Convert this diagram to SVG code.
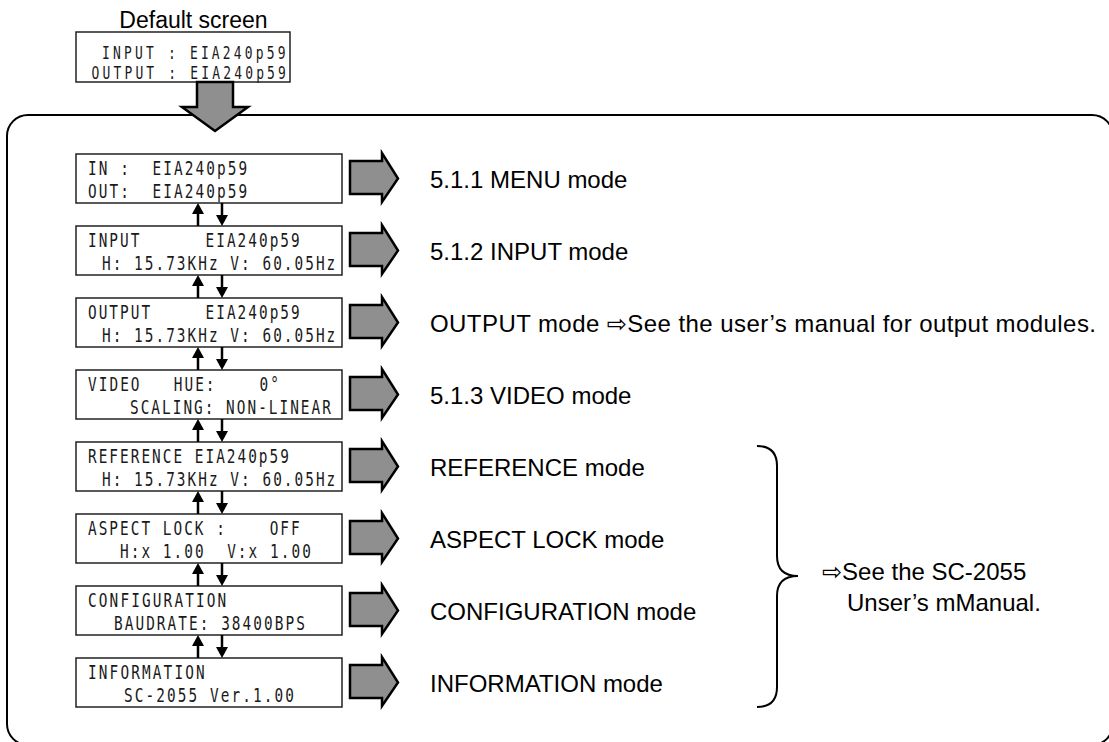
<svg xmlns="http://www.w3.org/2000/svg" width="1109" height="742" viewBox="0 0 1109 742">
<style>
.lcdbox{fill:#fff;stroke:#222;stroke-width:1.5}
.lcd{font-family:"DejaVu Sans Mono",monospace;font-size:20px;fill:#1a1a1a;white-space:pre}
.lbl{font-family:"Liberation Sans","DejaVu Sans",sans-serif;font-size:24px;fill:#000}
.garrow{fill:#8f8f8f;stroke:#000;stroke-width:2.5;stroke-linejoin:miter}
.conn line{stroke:#000;stroke-width:2.5}
.conn polygon{fill:#000}
</style>
<rect x="7" y="115" width="1106" height="630" rx="21" ry="21" fill="none" stroke="#000" stroke-width="2"/>
<g id="default">
<text class="lbl" x="193.5" y="28" text-anchor="middle" style="font-size:23px">Default screen</text>
<rect class="lcdbox" x="76" y="32" width="214" height="50"/>
<text class="lcd" transform="translate(102,59) scale(0.72,1)" style="font-size:18px" textLength="255" lengthAdjust="spacing">INPUT : EIA240p59</text>
<text class="lcd" transform="translate(91.5,79) scale(0.72,1)" style="font-size:18px" textLength="270" lengthAdjust="spacing">OUTPUT : EIA240p59</text>
</g>
<polygon class="garrow" points="197,82 233,82 233,107 248,107 215,131 182,107 197,107"/>
<g id="n1">
<rect class="lcdbox" x="76" y="154" width="266" height="49"/>
<text class="lcd" transform="translate(88,175) scale(0.72,1)" textLength="221" lengthAdjust="spacing">IN :  EIA240p59</text>
<text class="lcd" transform="translate(88,198) scale(0.72,1)" textLength="221" lengthAdjust="spacing">OUT:  EIA240p59</text>
<polygon class="garrow" points="350,161 382,161 382,153 398,178.5 382,202 382,194 350,194"/>
<text class="lbl" x="430" y="188">5.1.1 MENU mode</text>
</g>
<g id="n2">
<rect class="lcdbox" x="76" y="226" width="266" height="49"/>
<text class="lcd" transform="translate(88,247) scale(0.72,1)" textLength="294" lengthAdjust="spacing">INPUT      EIA240p59</text>
<text class="lcd" transform="translate(102,270) scale(0.72,1)" textLength="324" lengthAdjust="spacing">H: 15.73KHz V: 60.05Hz</text>
<polygon class="garrow" points="350,233 382,233 382,225 398,250.5 382,274 382,266 350,266"/>
<text class="lbl" x="430" y="260">5.1.2 INPUT mode</text>
</g>
<g id="n3">
<rect class="lcdbox" x="76" y="298" width="266" height="49"/>
<text class="lcd" transform="translate(88,319) scale(0.72,1)" textLength="294" lengthAdjust="spacing">OUTPUT     EIA240p59</text>
<text class="lcd" transform="translate(102,342) scale(0.72,1)" textLength="324" lengthAdjust="spacing">H: 15.73KHz V: 60.05Hz</text>
<polygon class="garrow" points="350,305 382,305 382,297 398,322.5 382,346 382,338 350,338"/>
<text class="lbl" x="430" y="332" textLength="666" lengthAdjust="spacing">OUTPUT mode ⇨See the user’s manual for output modules.</text>
</g>
<g id="n4">
<rect class="lcdbox" x="76" y="370" width="266" height="49"/>
<text class="lcd" transform="translate(88,391) scale(0.72,1)" textLength="265" lengthAdjust="spacing">VIDEO   HUE:    0°</text>
<text class="lcd" transform="translate(130,414) scale(0.72,1)" textLength="279" lengthAdjust="spacing">SCALING: NON-LINEAR</text>
<polygon class="garrow" points="350,377 382,377 382,369 398,394.5 382,418 382,410 350,410"/>
<text class="lbl" x="430" y="404">5.1.3 VIDEO mode</text>
</g>
<g id="n5">
<rect class="lcdbox" x="76" y="442" width="266" height="49"/>
<text class="lcd" transform="translate(88,463) scale(0.72,1)" textLength="279" lengthAdjust="spacing">REFERENCE EIA240p59</text>
<text class="lcd" transform="translate(102,486) scale(0.72,1)" textLength="324" lengthAdjust="spacing">H: 15.73KHz V: 60.05Hz</text>
<polygon class="garrow" points="350,449 382,449 382,441 398,466.5 382,490 382,482 350,482"/>
<text class="lbl" x="430" y="476">REFERENCE mode</text>
</g>
<g id="n6">
<rect class="lcdbox" x="76" y="514" width="266" height="49"/>
<text class="lcd" transform="translate(88,535) scale(0.72,1)" textLength="294" lengthAdjust="spacing">ASPECT LOCK :    OFF</text>
<text class="lcd" transform="translate(120,558) scale(0.72,1)" textLength="265" lengthAdjust="spacing">H:x 1.00  V:x 1.00</text>
<polygon class="garrow" points="350,521 382,521 382,513 398,538.5 382,562 382,554 350,554"/>
<text class="lbl" x="430" y="548">ASPECT LOCK mode</text>
</g>
<g id="n7">
<rect class="lcdbox" x="76" y="586" width="266" height="49"/>
<text class="lcd" transform="translate(88,607) scale(0.72,1)" textLength="192" lengthAdjust="spacing">CONFIGURATION</text>
<text class="lcd" transform="translate(114,630) scale(0.72,1)" textLength="265" lengthAdjust="spacing">BAUDRATE: 38400BPS</text>
<polygon class="garrow" points="350,593 382,593 382,585 398,610.5 382,634 382,626 350,626"/>
<text class="lbl" x="430" y="620">CONFIGURATION mode</text>
</g>
<g id="n8">
<rect class="lcdbox" x="76" y="658" width="266" height="49"/>
<text class="lcd" transform="translate(88,679) scale(0.72,1)" textLength="162" lengthAdjust="spacing">INFORMATION</text>
<text class="lcd" transform="translate(124,702) scale(0.72,1)" textLength="236" lengthAdjust="spacing">SC-2055 Ver.1.00</text>
<polygon class="garrow" points="350,665 382,665 382,657 398,682.5 382,706 382,698 350,698"/>
<text class="lbl" x="430" y="692">INFORMATION mode</text>
</g>
<g id="brace">
<path d="M757,446 Q777,446 777,466 L777,556 Q777,576 798,576 Q777,576 777,596 L777,687 Q777,707 757,707" fill="none" stroke="#000" stroke-width="2"/>
<text class="lbl" x="822" y="580">⇨See the SC-2055</text>
<text class="lbl" x="847" y="611">Unser’s mManual.</text>
</g>
<g class="conn" id="connectors">
<line x1="198" y1="226" x2="198" y2="212"/><polygon points="198,203 192,214 204,214"/>
<line x1="222" y1="203" x2="222" y2="217"/><polygon points="222,226 216,215 228,215"/>
<line x1="198" y1="298" x2="198" y2="284"/><polygon points="198,275 192,286 204,286"/>
<line x1="222" y1="275" x2="222" y2="289"/><polygon points="222,298 216,287 228,287"/>
<line x1="198" y1="370" x2="198" y2="356"/><polygon points="198,347 192,358 204,358"/>
<line x1="222" y1="347" x2="222" y2="361"/><polygon points="222,370 216,359 228,359"/>
<line x1="198" y1="442" x2="198" y2="428"/><polygon points="198,419 192,430 204,430"/>
<line x1="222" y1="419" x2="222" y2="433"/><polygon points="222,442 216,431 228,431"/>
<line x1="198" y1="514" x2="198" y2="500"/><polygon points="198,491 192,502 204,502"/>
<line x1="222" y1="491" x2="222" y2="505"/><polygon points="222,514 216,503 228,503"/>
<line x1="198" y1="586" x2="198" y2="572"/><polygon points="198,563 192,574 204,574"/>
<line x1="222" y1="563" x2="222" y2="577"/><polygon points="222,586 216,575 228,575"/>
<line x1="198" y1="658" x2="198" y2="644"/><polygon points="198,635 192,646 204,646"/>
<line x1="222" y1="635" x2="222" y2="649"/><polygon points="222,658 216,647 228,647"/>
</g>
</svg>
